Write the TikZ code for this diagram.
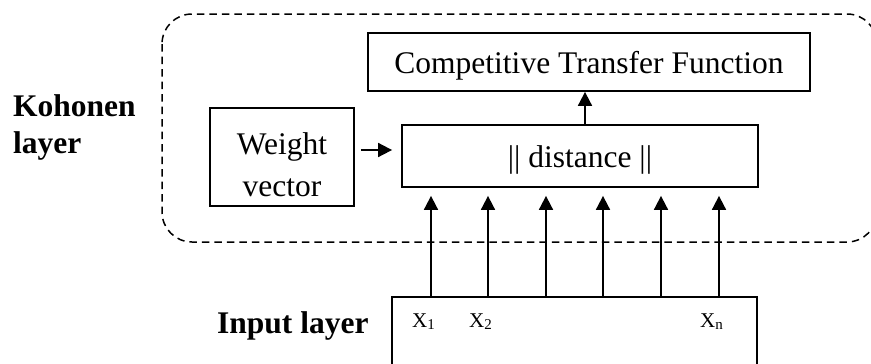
\documentclass[tikz,border=0pt]{standalone}
\usepackage{fontspec}
\setmainfont{Liberation Serif}
\usetikzlibrary{arrows.meta}
\newcommand{\sublow}[1]{\raisebox{-2pt}{\fontsize{15}{15}\selectfont #1}}
\begin{document}
\begin{tikzpicture}[x=1pt,y=-1pt,
  box/.style={draw,line width=1.8pt,inner sep=0pt,
    font=\fontsize{31.5}{36}\selectfont,text height=22pt,text depth=0pt},
  arr/.style={line width=1.8pt,-{Triangle[length=14pt,width=14pt]}},
  bigtext/.style={inner sep=0pt,font=\fontsize{31.5}{42}\selectfont,align=center},
  layertext/.style={inner sep=0pt,font=\fontsize{31.5}{37}\selectfont\bfseries,align=left},
  xin/.style={inner sep=0pt,anchor=base west,font=\fontsize{21}{24}\selectfont}]
\useasboundingbox (0,0) rectangle (871,364);

% Kohonen layer region
\draw[line width=1.5pt,dash pattern=on 7.5pt off 5pt,rounded corners=30pt]
  (162,14) rectangle (877,242);

% boxes
\node[box,minimum width=442pt,minimum height=58pt] (comp) at (589,62)
  {Competitive Transfer Function};
\node[box,minimum width=356pt,minimum height=62pt] (dist) at (580,156)
  {|| distance ||};
\node[box,minimum width=144pt,minimum height=98pt] (weight) at (282,157) {};
\node[bigtext,anchor=north] (weighttext) at (282,132.5) {Weight\\vector};
\node[draw,line width=1.8pt,inner sep=0pt,minimum width=365pt,minimum height=75pt]
  (input) at (574.5,334.5) {};

% layer labels
\node[layertext,anchor=north west] (kohonen) at (13,94.5) {Kohonen\\layer};
\node[inner sep=0pt,anchor=base west,font=\fontsize{31.5}{36}\selectfont\bfseries]
  (inputlbl) at (217,333) {Input layer};

% input components
\node[xin] (xa) at (412,327) {X\sublow{1}};
\node[xin] (xb) at (469,327) {X\sublow{2}};
\node[xin] (xc) at (700,327) {X\sublow{n}};

% connections
\draw[arr,shorten <=6pt,shorten >=9pt]
  ([yshift=7pt]weight.east) -- ([yshift=7pt]weight.east -| dist.west);
\draw[arr] ([xshift=5pt]dist.north) -- ([xshift=5pt]dist.north |- comp.south);
\foreach \i/\x in {1/431,2/488,3/546,4/603,5/661,6/719}{
  \coordinate (in\i) at (\x,297);
  \draw[arr,shorten >=8pt] (in\i) -- (in\i |- dist.south);
}
\end{tikzpicture}
\end{document}
